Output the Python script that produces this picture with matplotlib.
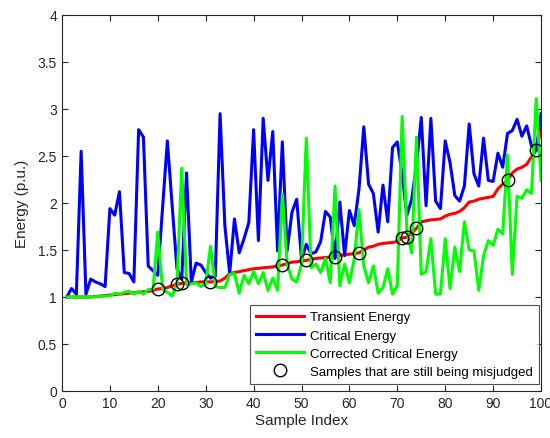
import matplotlib.pyplot as plt
import numpy as np

# Sample indices
samples = np.arange(1, 101)

# Transient energy (red)
transient = [1.00, 1.00, 1.00, 1.00, 1.00, 1.00, 1.005, 1.01, 1.015, 1.02,
             1.025, 1.03, 1.035, 1.04, 1.045, 1.05, 1.055, 1.06, 1.07, 1.085,
             1.09, 1.10, 1.12, 1.135, 1.145, 1.15, 1.15, 1.155, 1.16, 1.16,
             1.16, 1.165, 1.17, 1.20, 1.25, 1.26, 1.27, 1.28, 1.29, 1.30,
             1.305, 1.31, 1.315, 1.32, 1.33, 1.34, 1.355, 1.37, 1.375, 1.38,
             1.39, 1.40, 1.41, 1.415, 1.42, 1.425, 1.43, 1.44, 1.45, 1.455,
             1.46, 1.47, 1.50, 1.53, 1.54, 1.56, 1.57, 1.575, 1.58, 1.59,
             1.63, 1.635, 1.68, 1.73, 1.80, 1.81, 1.82, 1.825, 1.83, 1.86,
             1.88, 1.89, 1.91, 1.95, 2.01, 2.02, 2.04, 2.05, 2.06, 2.07,
             2.15, 2.20, 2.24, 2.32, 2.36, 2.38, 2.41, 2.49, 2.56, 2.78]

# Critical energy (blue)
critical = [1.00, 1.09, 1.03, 2.55, 1.03, 1.19, 1.16, 1.14, 1.11, 1.94,
            1.87, 2.12, 1.26, 1.25, 1.16, 2.78, 2.70, 1.33, 1.28, 1.23,
            1.95, 2.66, 1.97, 1.30, 1.19, 2.32, 1.16, 1.36, 1.34, 1.26,
            1.20, 1.22, 2.95, 1.76, 1.25, 1.83, 1.47, 1.62, 1.79, 2.78,
            1.60, 2.90, 2.24, 2.76, 1.49, 2.65, 1.49, 1.90, 2.04, 1.40,
            1.56, 1.46, 1.48, 1.59, 1.91, 1.85, 1.41, 2.01, 1.44, 1.92,
            1.76, 2.15, 2.81, 2.20, 2.10, 1.69, 2.19, 1.80, 2.59, 2.65,
            2.30, 1.87, 2.04, 2.40, 2.91, 1.97, 2.90, 2.02, 1.94, 2.66,
            2.43, 2.08, 2.02, 2.18, 2.84, 2.31, 2.18, 2.69, 2.24, 2.23,
            2.53, 2.38, 2.74, 2.77, 2.89, 2.71, 2.82, 2.61, 2.56, 2.95]

# Corrected critical energy (green)
corrected = [1.00, 1.00, 1.00, 1.00, 1.00, 1.00, 1.00, 1.01, 1.01, 1.01,
             1.04, 1.03, 1.05, 1.06, 1.03, 1.06, 1.03, 1.08, 1.08, 1.69,
             1.08, 1.05, 1.01, 1.14, 2.37, 1.13, 1.14, 1.15, 1.11, 1.14,
             1.54, 1.11, 1.10, 1.10, 1.24, 1.25, 1.04, 1.23, 1.14, 1.27,
             1.14, 1.26, 1.07, 1.20, 1.07, 2.09, 1.35, 1.19, 1.16, 1.35,
             2.69, 1.31, 1.35, 1.26, 1.41, 1.15, 2.18, 1.12, 1.35, 1.15,
             1.40, 1.93, 1.33, 1.15, 1.33, 1.04, 1.10, 1.30, 1.03, 1.12,
             2.92, 1.70, 1.47, 2.70, 1.24, 1.27, 1.62, 1.03, 1.03, 1.62,
             1.09, 1.53, 1.27, 1.80, 1.50, 1.49, 1.07, 1.44, 1.60, 1.55,
             1.72, 1.67, 2.51, 1.24, 2.07, 2.05, 2.14, 2.10, 3.11, 2.24]

# Samples that are still misjudged
misjudged = [20, 24, 25, 31, 46, 51, 57, 62, 71, 72, 74, 93, 99]

plt.rcParams['font.family'] = ['Liberation Sans', 'DejaVu Sans']

fig = plt.figure(figsize=(5.5, 4.39), dpi=100)
ax = fig.add_axes([0.1127, 0.1071, 0.871, 0.8565])

ax.plot(samples, transient, color='#ff0000', lw=2.2, label='Transient Energy')
ax.plot(samples, critical, color='#0000ff', lw=2.2, label='Critical Energy')
ax.plot(samples, corrected, color='#00ff00', lw=2.2, label='Corrected Critical Energy')
mis_y = [transient[i - 1] for i in misjudged]
ax.plot(misjudged, mis_y, 'o', color='black', mfc='none', ms=9, mew=1,
        label='Samples that are still being misjudged')

ax.set_xlim(0, 100)
ax.set_ylim(0, 4)
ax.set_xticks(np.arange(0, 101, 10))
ax.set_yticks(np.arange(0, 4.01, 0.5))
ax.set_yticklabels(['0', '0.5', '1', '1.5', '2', '2.5', '3', '3.5', '4'])
ax.tick_params(direction='in', top=True, right=True, labelsize=10,
               colors='#262626', length=4)
for s in ax.spines.values():
    s.set_color('#262626')
    s.set_linewidth(0.8)

ax.set_xlabel('Sample Index', fontsize=11, color='#262626', labelpad=2)
ax.set_ylabel('Energy (p.u.)', fontsize=11, color='#262626', labelpad=6)

leg = ax.legend(loc='lower right', bbox_to_anchor=(0.996, 0.019), fontsize=9.5,
                frameon=True, fancybox=False, edgecolor='#262626',
                handlelength=3.6, borderpad=0.45, labelspacing=0.45,
                handletextpad=0.5, borderaxespad=0)
leg.get_frame().set_linewidth(0.8)

fig.savefig('out.png', dpi=100)
